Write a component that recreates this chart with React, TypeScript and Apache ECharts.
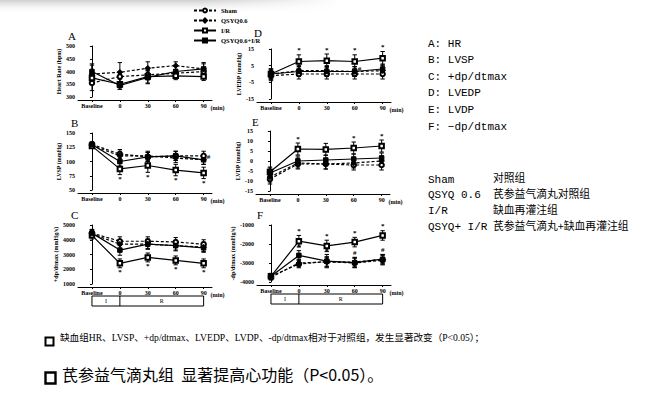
import React, { useEffect, useRef } from 'react';
import * as echarts from 'echarts';

const timeLabels = ['Baseline', '0', '30', '60', '90'];
const groups = ['Sham', 'QSYQ0.6', 'I/R', 'QSYQ0.6+I/R'];

// A: Heart rate
const hrSham = [355, 380, 387, 393, 400];
const hrQsyq = [390, 397, 413, 423, 410];
const hrIR = [375, 350, 380, 383, 380];
const hrQsyqIR = [400, 345, 377, 400, 410];
const hrShamErr = [30, 20, 20, 15, 15];
const hrQsyqErr = [35, 38, 25, 15, 20];
const hrIRErr = [25, 20, 25, 15, 15];
const hrQsyqIRErr = [30, 15, 25, 20, 25];

// B: LVSP
const lvspSham = [130, 113, 108, 110, 110];
const lvspQsyq = [128, 110, 110, 106, 103];
const lvspIR = [127, 87, 93, 85, 80];
const lvspQsyqIR = [130, 100, 108, 110, 103];
const lvspShamErr = [4, 8, 8, 8, 8];
const lvspQsyqErr = [4, 8, 8, 8, 8];
const lvspIRErr = [4, 10, 12, 10, 10];
const lvspQsyqIRErr = [4, 8, 8, 8, 8];

// C: +dp/dtmax
const pdpSham = [4450, 3900, 3900, 3850, 3700];
const pdpQsyq = [4400, 3700, 3700, 3600, 3500];
const pdpIR = [4300, 2400, 2800, 2600, 2400];
const pdpQsyqIR = [4450, 3300, 3700, 3600, 3450];
const pdpShamErr = [250, 300, 300, 300, 300];
const pdpQsyqErr = [250, 300, 300, 300, 300];
const pdpIRErr = [250, 300, 300, 300, 300];
const pdpQsyqIRErr = [250, 350, 350, 350, 300];

// D: LVEDP
const edpSham = [-1, 0, 0, 0, 0];
const edpQsyq = [0, 2, 2, 1.5, 2];
const edpIR = [0, 7.5, 8, 7.5, 9.5];
const edpQsyqIR = [0, 1.5, 1.5, 1.5, 3];
const edpShamErr = [3, 3, 3, 3, 3];
const edpQsyqErr = [3, 3, 3, 3, 3];
const edpIRErr = [3, 4, 4, 4, 4];
const edpQsyqIRErr = [3, 3, 3, 3, 3];

// E: LVDP
const dpSham = [-9, -1.5, -1.5, -2, -2];
const dpQsyq = [-8, -1, -1.5, -1, 0];
const dpIR = [-5.5, 6, 5.8, 6.5, 7.5];
const dpQsyqIR = [-6, 0, 0.5, 1, 1.5];
const dpShamErr = [2.5, 2.5, 2.5, 2.5, 2.5];
const dpQsyqErr = [2.5, 2.5, 2.5, 2.5, 2.5];
const dpIRErr = [2.5, 3, 3, 3, 3];
const dpQsyqIRErr = [2.5, 2.5, 2.5, 2.5, 2.5];

// F: -dp/dtmax
const ndpSham = [-3700, -3050, -2920, -3000, -2850];
const ndpQsyq = [-3750, -3000, -2950, -2950, -2800];
const ndpIR = [-3700, -1850, -2100, -1900, -1550];
const ndpQsyqIR = [-3700, -2600, -2900, -2980, -2800];
const ndpShamErr = [150, 200, 250, 250, 250];
const ndpQsyqErr = [150, 200, 250, 250, 250];
const ndpIRErr = [150, 300, 300, 250, 250];
const ndpQsyqIRErr = [150, 250, 350, 250, 250];

// significance marks
const sigIR_B = ['', '*', '*', '*', '*'];
const sigIR_C = ['', '*', '*', '*', '*'];
const sigIR_D = ['', '*', '*', '*', '*'];
const sigIR_E = ['', '*', '', '*', '*'];
const sigIR_F = ['', '*', '*', '*', '*'];
const sigQ_D = ['', '', '', '#', ''];
const sigQ_F = ['', '#', '#', '#', '#'];
const sigQ_B = ['', '', '', '', '#'];

const legendTexts = ['A: HR', 'B: LVSP', 'C: +dp/dtmax', 'D: LVEDP', 'E: LVDP', 'F: \u2212dp/dtmax'];
const groupCodes = ['Sham', 'QSYQ 0.6', 'I/R', 'QSYQ+ I/R'];
const groupNamesCn = ['对照组', '芪参益气滴丸对照组', '缺血再灌注组', '芪参益气滴丸+缺血再灌注组'];
const note1 = '缺血组HR、LVSP、+dp/dtmax、LVEDP、LVDP、-dp/dtmax相对于对照组，发生显著改变（P<0.05）；';
const note2 = '芪参益气滴丸组  显著提高心功能（P<0.05）。';

const serif = 'Liberation Serif, Times New Roman, serif';

type Sig = { marks: string[]; pos: string };
type Panel = {
  letter: string;
  name: string;
  left: number;
  top: number;
  height: number;
  min: number;
  max: number;
  ticks: number[];
  series: number[][];
  errs: number[][];
  sigs: { [k: number]: Sig };
  box?: boolean;
  letterPos: [number, number];
};

const panels: Panel[] = [
  {
    letter: 'A', name: 'Heart Rate (bpm)', left: 78, top: 46, height: 51, min: 300, max: 500,
    ticks: [300, 350, 400, 450, 500],
    series: [hrSham, hrQsyq, hrIR, hrQsyqIR], errs: [hrShamErr, hrQsyqErr, hrIRErr, hrQsyqIRErr],
    sigs: {}, letterPos: [68, 30],
  },
  {
    letter: 'B', name: 'LVSP (mmHg)', left: 78, top: 133, height: 57, min: 50, max: 150,
    ticks: [50, 75, 100, 125, 150],
    series: [lvspSham, lvspQsyq, lvspIR, lvspQsyqIR], errs: [lvspShamErr, lvspQsyqErr, lvspIRErr, lvspQsyqIRErr],
    sigs: { 2: { marks: sigIR_B, pos: 'below' }, 3: { marks: sigQ_B, pos: 'right' } }, letterPos: [71, 117],
  },
  {
    letter: 'C', name: '+dp/dtmax (mmHg/s)', left: 78, top: 225, height: 59, min: 1000, max: 5000,
    ticks: [1000, 2000, 3000, 4000, 5000],
    series: [pdpSham, pdpQsyq, pdpIR, pdpQsyqIR], errs: [pdpShamErr, pdpQsyqErr, pdpIRErr, pdpQsyqIRErr],
    sigs: { 2: { marks: sigIR_C, pos: 'below' } }, box: true, letterPos: [71, 209],
  },
  {
    letter: 'D', name: 'LVEDP (mmHg)', left: 257, top: 49, height: 50, min: -15, max: 15,
    ticks: [-15, -5, 5, 15],
    series: [edpSham, edpQsyq, edpIR, edpQsyqIR], errs: [edpShamErr, edpQsyqErr, edpIRErr, edpQsyqIRErr],
    sigs: { 2: { marks: sigIR_D, pos: 'above' }, 3: { marks: sigQ_D, pos: 'right' } }, letterPos: [254, 27],
  },
  {
    letter: 'E', name: 'LVDP (mmHg)', left: 256, top: 131, height: 60, min: -15, max: 15,
    ticks: [-15, -10, -5, 0, 5, 10, 15],
    series: [dpSham, dpQsyq, dpIR, dpQsyqIR], errs: [dpShamErr, dpQsyqErr, dpIRErr, dpQsyqIRErr],
    sigs: { 2: { marks: sigIR_E, pos: 'above' } }, letterPos: [252, 116],
  },
  {
    letter: 'F', name: '-dp/dtmax (mmHg/s)', left: 257, top: 225, height: 57, min: -4000, max: -1000,
    ticks: [-4000, -3000, -2000, -1000],
    series: [ndpSham, ndpQsyq, ndpIR, ndpQsyqIR], errs: [ndpShamErr, ndpQsyqErr, ndpIRErr, ndpQsyqIRErr],
    sigs: { 2: { marks: sigIR_F, pos: 'above' }, 3: { marks: sigQ_F, pos: 'above' } }, box: true, letterPos: [257, 209],
  },
];

const symbols = ['emptyCircle', 'diamond', 'emptyRect', 'rect'];
const dashed = [true, true, false, false];
const symSizes = [4.5, 5.5, 4.5, 4.5];

function buildOption() {
  const grid: any[] = [];
  const xAxis: any[] = [];
  const yAxis: any[] = [];
  const series: any[] = [];
  const graphic: any[] = [];

  panels.forEach((p, pi) => {
    grid.push({ left: p.left, top: p.top, width: 134, height: p.height });
    xAxis.push({
      gridIndex: pi, type: 'value', min: -0.5, max: 4.3,
      offset: 3,
      splitLine: { show: false },
      axisLine: { show: true, onZero: false, lineStyle: { color: '#000', width: 1 } },
      axisTick: { show: true, length: 2, inside: false, customValues: [0, 1, 2, 3, 4], lineStyle: { color: '#000' } },
      axisLabel: {
        customValues: [0, 1, 2, 3, 4], margin: 3,
        formatter: (v: number) => timeLabels[Math.round(v)],
        fontFamily: serif, fontSize: 6, fontWeight: 'bold', color: '#000',
      },
      name: '(min)', nameLocation: 'end', nameGap: -6,
      nameTextStyle: { fontFamily: serif, fontSize: 6, fontWeight: 'bold', color: '#000', verticalAlign: 'top', align: 'left', padding: [5, 0, 0, 0] },
    });
    yAxis.push({
      gridIndex: pi, type: 'value', min: p.min, max: p.max,
      splitLine: { show: false },
      axisLine: { show: true, lineStyle: { color: '#000', width: 1 } },
      axisTick: { show: true, length: 2, customValues: p.ticks, lineStyle: { color: '#000' } },
      axisLabel: {
        customValues: p.ticks, margin: 3,
        formatter: (v: number) => String(v),
        fontFamily: serif, fontSize: 6, fontWeight: 'bold', color: '#000',
      },
      name: p.name, nameLocation: 'middle', nameRotate: 90, nameGap: 15,
      nameTextStyle: { fontFamily: serif, fontSize: 6, fontWeight: 'bold', color: '#000' },
    });

    graphic.push({
      type: 'text', left: p.letterPos[0], top: p.letterPos[1],
      style: { text: p.letter, font: `11px ${serif}`, fill: '#000' },
    });

    p.series.forEach((vals, gi) => {
      const errs = p.errs[gi];
      const sig = p.sigs[gi];
      series.push({
        type: 'custom', name: `err-${p.letter}-${gi}`, xAxisIndex: pi, yAxisIndex: pi,
        clip: false, z: 1, silent: true,
        data: vals.map((v, i) => [i, v, errs[i]]),
        renderItem: (params: any, api: any) => {
          const x = api.value(0), m = api.value(1), e = api.value(2);
          const t = api.coord([x, m + e]);
          const b = api.coord([x, m - e]);
          const cap = 2.2;
          const st = { stroke: '#000', lineWidth: 1 };
          const children: any[] = [
            { type: 'line', shape: { x1: t[0], y1: t[1], x2: b[0], y2: b[1] }, style: st },
            { type: 'line', shape: { x1: t[0] - cap, y1: t[1], x2: t[0] + cap, y2: t[1] }, style: st },
            { type: 'line', shape: { x1: b[0] - cap, y1: b[1], x2: b[0] + cap, y2: b[1] }, style: st },
          ];
          if (sig) {
            const mark = sig.marks[params.dataIndex];
            if (mark) {
              let tx = t[0], ty = t[1] - 1, va = 'bottom', al = 'center';
              if (sig.pos === 'below') { ty = b[1] + 1; va = 'top'; }
              if (sig.pos === 'right') { tx = t[0] + 3; ty = t[1] + 2; al = 'left'; va = 'middle'; }
              children.push({
                type: 'text', x: tx, y: ty,
                style: { text: mark, font: `bold 7px ${serif}`, fill: '#000', align: al, verticalAlign: va },
              });
            }
          }
          return { type: 'group', children };
        },
      });
      series.push({
        type: 'line', name: groups[gi], xAxisIndex: pi, yAxisIndex: pi, z: 3,
        data: vals.map((v, i) => [i, v]),
        symbol: symbols[gi], symbolSize: symSizes[gi], showSymbol: true,
        lineStyle: { color: '#000', width: 1.2, type: dashed[gi] ? [3, 2] : 'solid' },
        itemStyle: { color: '#000', borderColor: '#000', borderWidth: 1 },
      });
    });

    if (p.box) {
      series.push({
        type: 'custom', name: `box-${p.letter}`, xAxisIndex: pi, yAxisIndex: pi,
        clip: false, silent: true, z: 2,
        data: [[0, p.min]],
        renderItem: (params: any, api: any) => {
          const a = api.coord([0, p.min]);
          const d = api.coord([1, p.min]);
          const e = api.coord([4, p.min]);
          const y0 = a[1] + 12, h = 10;
          const st = { stroke: '#000', lineWidth: 1, fill: 'none' };
          return {
            type: 'group', children: [
              { type: 'rect', shape: { x: a[0], y: y0, width: e[0] - a[0], height: h }, style: st },
              { type: 'line', shape: { x1: d[0], y1: y0, x2: d[0], y2: y0 + h }, style: st },
              { type: 'text', x: (a[0] + d[0]) / 2, y: y0 + h / 2, style: { text: 'I', font: `6px ${serif}`, fill: '#000', align: 'center', verticalAlign: 'middle' } },
              { type: 'text', x: (d[0] + e[0]) / 2, y: y0 + h / 2, style: { text: 'R', font: `6px ${serif}`, fill: '#000', align: 'center', verticalAlign: 'middle' } },
            ],
          };
        },
      });
    }
  });

  // top shadow
  graphic.push({
    type: 'rect', left: 0, top: 0, z: -10, shape: { width: 340, height: 14 },
    style: { fill: new echarts.graphic.LinearGradient(0, 0, 0, 1, [{ offset: 0, color: '#cfcfcf' }, { offset: 1, color: 'rgba(255,255,255,0)' }]) },
  });
  graphic.push({
    type: 'rect', left: 200, top: 0, z: -9, shape: { width: 140, height: 14 },
    style: { fill: new echarts.graphic.LinearGradient(0, 0, 1, 0, [{ offset: 0, color: 'rgba(255,255,255,0)' }, { offset: 1, color: '#fff' }]) },
  });

  const mono = 'Liberation Mono, DejaVu Sans Mono, monospace';
  legendTexts.forEach((t, i) => {
    graphic.push({ type: 'text', left: 428, top: 38 + i * 16.6, style: { text: t, font: `11px ${mono}`, fill: '#000' } });
  });
  groupCodes.forEach((t, i) => {
    graphic.push({ type: 'text', left: 428, top: 174 + i * 15.7, style: { text: t, font: `11px ${mono}`, fill: '#000' } });
    graphic.push({ type: 'text', left: 493, top: 172 + i * 15.7, style: { text: groupNamesCn[i], font: `10.8px Noto Sans CJK SC`, fill: '#000' } });
  });

  // notes
  graphic.push({ type: 'rect', left: 43, top: 335, shape: { width: 8, height: 8 }, style: { fill: 'none', stroke: '#000', lineWidth: 2 } });
  graphic.push({ type: 'text', left: 60, top: 333, style: { text: note1, font: `9.6px Liberation Serif, Noto Sans CJK SC`, fill: '#000' } });
  graphic.push({ type: 'rect', left: 43, top: 370, shape: { width: 10, height: 11 }, style: { fill: 'none', stroke: '#000', lineWidth: 2.4 } });
  graphic.push({ type: 'text', left: 62, top: 366, style: { text: note2, font: `16px Noto Sans CJK SC`, fill: '#000' } });

  return {
    animation: false,
    backgroundColor: '#fff',
    legend: {
      data: groups, orient: 'vertical', left: 188, top: 2,
      itemWidth: 22, itemHeight: 5, itemGap: 3,
      textStyle: { fontFamily: serif, fontSize: 6.5, fontWeight: 'bold', color: '#000' },
    },
    grid, xAxis, yAxis, series, graphic,
  };
}

export default function App() {
  const ref = useRef<HTMLDivElement>(null);
  useEffect(() => {
    if (!ref.current) return;
    const chart = echarts.init(ref.current, null, { renderer: 'svg' });
    chart.setOption(buildOption() as any);
    return () => chart.dispose();
  }, []);
  return <div ref={ref} style={{ position: 'fixed', left: 0, top: 0, width: 663, height: 397 }} />;
}
